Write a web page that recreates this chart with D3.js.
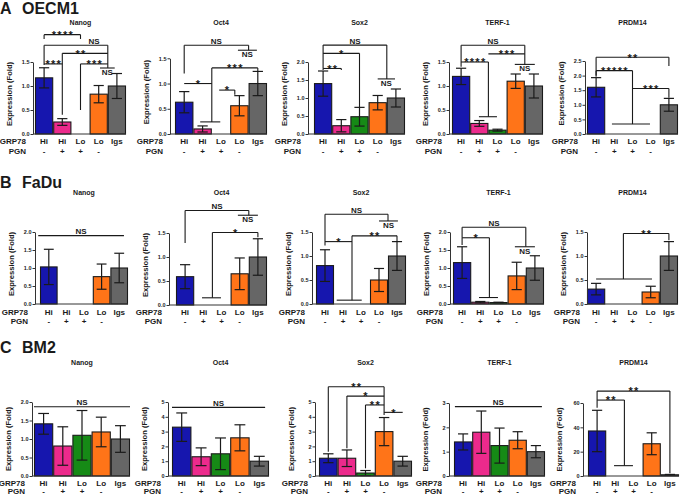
<!DOCTYPE html>
<html><head><meta charset="utf-8">
<script src="https://cdn.jsdelivr.net/npm/d3@7"></script>
<style>body{margin:0;background:#fff}svg{display:block}text{font-family:"Liberation Sans",Arial,sans-serif;fill:#1a1a1a}</style>
</head><body><svg id="c" width="685" height="496"></svg>
<script>
const rowLetters = ["A","B","C"];
const cellLines = ["OECM1","FaDu","BM2"];
const genes = ["Nanog","Oct4","Sox2","TERF-1","PRDM14"];
const grp78 = ["Hi","Hi","Lo","Lo","Igs"];
const pgn = ["-","+","+","-",""];
const barColors = ["#1616ae","#ec2a8c","#168a16","#ff7418","#666666"];

// OECM1
const oecm1Mean = [[1.17,0.25,null,0.83,1.0],[0.63,0.10,null,0.56,1.0],[1.40,0.23,0.48,0.87,1.0],[1.20,0.22,0.08,1.10,1.0],[1.60,null,null,null,1.0]];
const oecm1Err  = [[0.21,0.07,0,0.18,0.26],[0.21,0.06,0,0.20,0.24],[0.35,0.17,0.26,0.20,0.25],[0.17,0.06,0.02,0.15,0.25],[0.33,0,0,0,0.22]];
const oecm1YMax = [1.5,1.5,2.0,1.5,2.5];
const oecm1Step = [0.5,0.5,0.5,0.5,0.5];
// FaDu
const faduMean = [[1.03,null,null,0.76,1.0],[0.59,null,null,0.65,1.0],[0.80,null,null,0.50,1.0],[1.15,0.05,0.04,0.78,1.0],[0.31,null,null,0.25,1.0]];
const faduErr  = [[0.49,0,0,0.35,0.41],[0.25,0,0,0.33,0.38],[0.33,0,0,0.24,0.30],[0.44,0.02,0.01,0.38,0.34],[0.12,0,0,0.12,0.30]];
const faduYMax = [2.0,1.5,1.5,2.0,1.5];
const faduStep = [0.5,0.5,0.5,0.5,0.5];
// BM2
const bm2Mean = [[1.41,0.81,1.10,1.19,1.0],[3.30,1.30,1.50,2.58,1.0],[1.20,1.20,0.20,3.00,1.0],[1.40,1.80,1.25,1.47,1.0],[37,null,null,26.5,1.0]];
const bm2Err  = [[0.28,0.52,0.67,0.40,0.36],[0.96,0.60,1.07,0.88,0.33],[0.30,0.56,0.17,0.95,0.33],[0.33,0.87,0.72,0.35,0.25],[17,0,0,9,0.3]];
const bm2YMax = [2.0,5,5,3,60];
const bm2Step = [0.5,1,1,1,20];

// significance brackets: [fromGroup, toGroup, level, dropFrom, dropTo, label, labelPlace, labelGroup]
const oecm1Sig = [
  [[0,2,2.07,1.98,1.98,"****"],[0,3.5,1.85,1.44,1.375,"NS","above",2.75],[1,3.5,1.68,0.4,null,"**","above",2.0],[2,3.5,1.46,0.5,null,"***"],[0,1,1.46,null,null,"***"],[3.07,3.88,1.375,null,null,"NS","below"]],
  [[0,3.5,1.76,1.2,1.66,"NS"],[2.92,3.95,1.66,null,null,"NS","below"],[1.5,4,1.31,0.24,1.23,"***"],[0.87,1.96,0.24,null,null,""],[0,1.5,1.0,null,null,"*"],[1.9,2.75,0.87,null,0.78,"*"]],
  [[0,3.5,2.47,1.82,1.53,"NS"],[3.0,3.95,1.53,null,null,"NS","below"],[0,2,2.24,null,0.75,"*"],[0,1,1.82,1.78,1.78,"**"]],
  [[0,3.5,1.85,1.5,1.45,"NS"],[2.95,4.05,1.45,null,null,"NS","below"],[0,1.5,1.5,1.4,0.36,"****"],[1.5,3.5,1.67,null,null,"***"],[0.98,1.97,0.36,null,null,""]],
  [[0,4,2.63,2.0,2.33,"**"],[0,2,2.17,1.96,0.34,"*****"],[2,4,1.56,null,1.24,"***"],[0.87,2.96,0.34,null,null,""]]
];
const faduSig = [
  [[-0.6,4.27,1.9,null,null,"NS"]],
  [[0,3.5,1.97,1.29,1.87,"NS"],[2.9,4.0,1.87,null,null,"NS","below"],[1.5,4,1.51,0.15,1.41,"*"],[0.93,1.97,0.15,null,null,""]],
  [[0,3.5,1.87,1.22,1.73,"NS"],[3.0,4.05,1.73,null,null,"NS","below"],[0,1.5,1.3,null,null,"*"],[1.5,4,1.42,0.08,1.31,"**"],[0.65,2.04,0.08,null,null,""]],
  [[0,3.5,2.13,1.84,1.59,"NS"],[2.9,4.0,1.59,null,null,"NS","below"],[0,1.5,1.84,1.64,0.18,"*"],[0.93,1.97,0.18,null,null,""]],
  [[1.5,4,1.47,0.52,1.33,"**"],[0,3.07,0.52,null,null,""]]
];
const bm2Sig = [
  [[-0.5,4.5,1.87,null,null,"NS"]],
  [[-0.5,4.3,4.64,null,null,"NS"]],
  [[0,3,6.03,1.64,4.12,"**"],[1,3,5.4,1.87,null,"*"],[2,3,4.8,0.52,null,"**"],[3,4,4.3,null,null,"*"]],
  [[-0.45,4.33,2.85,null,null,"NS"]],
  [[0,4,69.8,56,2.2,"**"],[0,1.5,62.4,null,8.5,"**"],[0.93,1.97,8.5,null,null,""]]
];

const rows = [
  {mean:oecm1Mean, err:oecm1Err, ymax:oecm1YMax, step:oecm1Step, sig:oecm1Sig},
  {mean:faduMean, err:faduErr, ymax:faduYMax, step:faduStep, sig:faduSig},
  {mean:bm2Mean, err:bm2Err, ymax:bm2YMax, step:bm2Step, sig:bm2Sig}
];
const layout = [
  {labelY:13.5, titleY:25, lab1:144, lab2:154, yBase:[134,134,134,134,134], yTop:[62,58.3,62,62,61],
   axisX:[33,170,308,449,585], barStart:[35,175,314,452,587], slot:[18.2,18.4,18.2,18.2,18.2]},
  {labelY:188, titleY:195, lab1:315, lab2:324, yBase:[304,305,304,304,304], yTop:[232,233,232,232,232],
   axisX:[35,169,312,450,587], barStart:[40,176,316,453,587], slot:[17.6,18.2,18,18.2,18.2]},
  {labelY:353, titleY:365, lab1:486, lab2:494, yBase:[476,476,476,476,476], yTop:[402,402,402,403,403],
   axisX:[32,168,315,449,583], barStart:[34,172,319,454,588], slot:[19.2,19.4,18.6,18.2,18.2]}
];

const svg = d3.select("#c");
const ink = "#1a1a1a";

rows.forEach((row, r) => {
  const L = layout[r];
  svg.append("text").attr("x",0).attr("y",L.labelY).attr("font-size",16).attr("font-weight","bold").text(rowLetters[r]);
  svg.append("text").attr("x",22).attr("y",L.labelY).attr("font-size",16).attr("font-weight","bold").text(cellLines[r]);

  genes.forEach((gene, p) => {
    const x = d3.scaleLinear().domain([-0.5,4.5]).range([L.barStart[p], L.barStart[p] + 5*L.slot[p]]);
    const y = d3.scaleLinear().domain([0,row.ymax[p]]).range([L.yBase[p], L.yTop[p]]);
    const G = svg.append("g");
    const ax0 = L.axisX[p];

    G.append("text").attr("x",x(2)).attr("y",L.titleY).attr("text-anchor","middle").attr("font-size",7).attr("font-weight","bold").attr("fill","#333").text(gene);

    const yc = (L.yBase[p] + L.yTop[p]) / 2 - (r < 2 ? 4 : 0);
    G.append("text").attr("transform",`translate(${ax0-21},${yc}) rotate(-90)`).attr("text-anchor","middle")
      .attr("font-size",7.6).attr("font-weight","bold").attr("fill","#333").text("Expression (Fold)");

    const data = row.mean[p].map((m,i) => ({i, m, e: row.err[p][i]})).filter(d => d.m != null);
    G.selectAll("rect.bar").data(data).join("rect").attr("class","bar")
      .attr("x", d => x(d.i-0.5)+0.5).attr("width", d => x(d.i+0.5)-x(d.i-0.5)-1)
      .attr("y", d => y(d.m)).attr("height", d => y(0)-y(d.m))
      .attr("fill", d => barColors[d.i]).attr("stroke", ink).attr("stroke-width",1.1);

    const cw = L.slot[p]*0.28;
    data.forEach(d => {
      if (!d.e) return;
      const lo = Math.max(0, d.m - d.e), hi = d.m + d.e;
      G.append("line").attr("x1",x(d.i)).attr("x2",x(d.i)).attr("y1",y(lo)).attr("y2",y(hi)).attr("stroke",ink).attr("stroke-width",1.2);
      [lo,hi].forEach(v => G.append("line").attr("x1",x(d.i)-cw).attr("x2",x(d.i)+cw).attr("y1",y(v)).attr("y2",y(v)).attr("stroke",ink).attr("stroke-width",1.2));
    });

    const ticks = d3.range(0, row.ymax[p] + 1e-9, row.step[p]);
    const axis = d3.axisLeft(y).tickValues(ticks).tickSize(2.5).tickSizeOuter(0)
      .tickFormat(d3.format(row.step[p] < 1 ? ".1f" : "d"));
    const aG = G.append("g").attr("transform",`translate(${ax0},0)`).call(axis);
    aG.select(".domain").attr("stroke","#333");
    aG.selectAll(".tick line").attr("stroke","#333");
    aG.selectAll(".tick text").attr("font-size",5.5).attr("font-weight","bold").attr("x",-3.5).attr("fill","#555")
      .style("font-family","'Liberation Sans',Arial,sans-serif");
    G.append("line").attr("x1",ax0).attr("x2",x(4.5)).attr("y1",y(0)).attr("y2",y(0)).attr("stroke","#333").attr("stroke-width",1);

    G.append("text").attr("x",ax0-7).attr("y",L.lab1).attr("text-anchor","end").attr("font-size",8).attr("font-weight","bold").text("GRP78");
    G.append("text").attr("x",ax0-7).attr("y",L.lab2).attr("text-anchor","end").attr("font-size",8).attr("font-weight","bold").text("PGN");
    grp78.forEach((t,i) => G.append("text").attr("x",x(i)).attr("y",L.lab1).attr("text-anchor","middle").attr("font-size",8).attr("font-weight","bold").text(t));
    pgn.forEach((t,i) => G.append("text").attr("x",x(i)).attr("y",L.lab2).attr("text-anchor","middle").attr("font-size",8).attr("font-weight","bold").text(t));

    row.sig[p].forEach(b => {
      const [a1,a2,lv,d1,d2,lab,place,lx] = b;
      const ly = y(lv);
      G.append("line").attr("x1",x(a1)).attr("x2",x(a2)).attr("y1",ly).attr("y2",ly).attr("stroke",ink).attr("stroke-width",1.1);
      if (d1 != null) G.append("line").attr("x1",x(a1)).attr("x2",x(a1)).attr("y1",ly).attr("y2",y(d1)).attr("stroke",ink).attr("stroke-width",1.1);
      if (d2 != null) G.append("line").attr("x1",x(a2)).attr("x2",x(a2)).attr("y1",ly).attr("y2",y(d2)).attr("stroke",ink).attr("stroke-width",1.1);
      if (!lab) return;
      const tx = lx != null ? x(lx) : (x(a1)+x(a2))/2;
      const t = G.append("text").attr("text-anchor","middle").text(lab);
      if (lab[0] === "*") {
        t.attr("x",tx+0.6).attr("y",ly+4.3).attr("font-size",11).attr("font-weight","bold").attr("letter-spacing",1.3);
      } else if (place === "below") {
        t.attr("x",tx).attr("y",ly+6.8).attr("font-size",8).attr("font-weight","bold");
      } else {
        t.attr("x",tx).attr("y",ly-1.5).attr("font-size",8).attr("font-weight","bold");
      }
    });
  });
});
</script></body></html>
